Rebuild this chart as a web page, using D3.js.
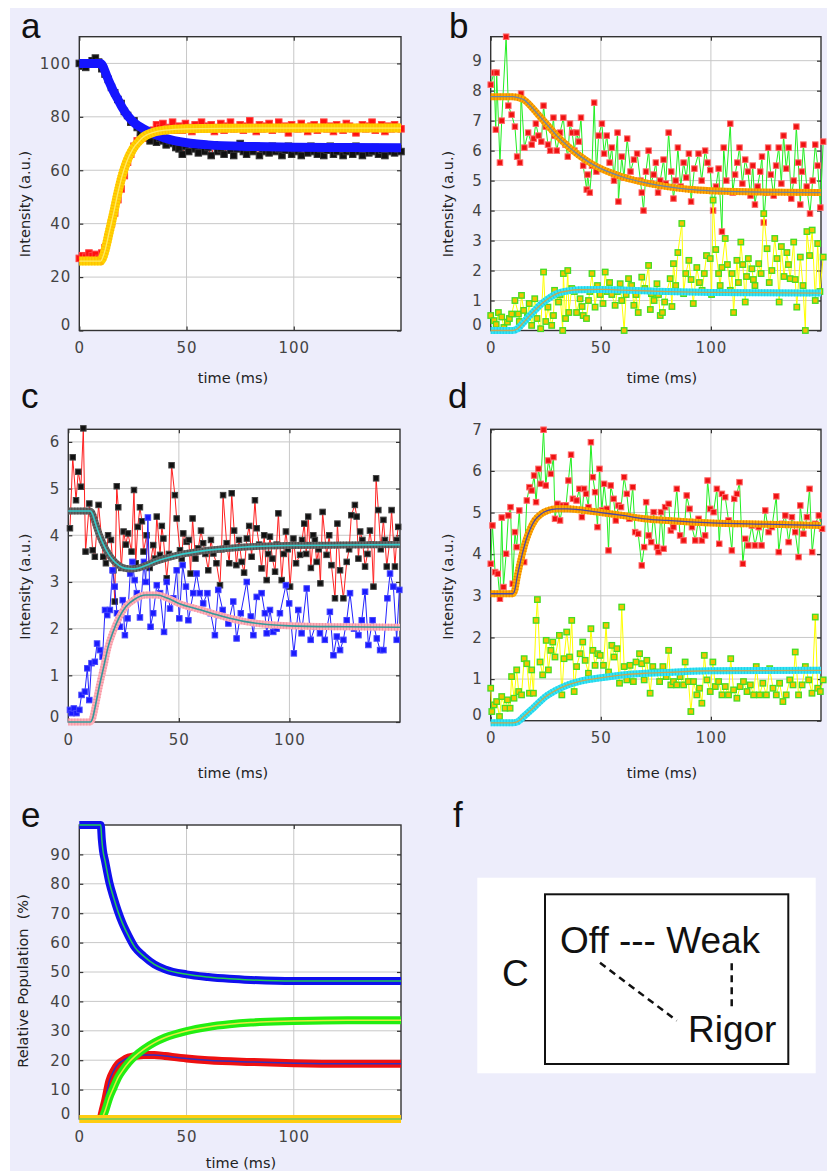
<!DOCTYPE html>
<html>
<head>
<meta charset="utf-8">
<script src="https://cdn.jsdelivr.net/npm/d3@7"></script>
<style>
  body { margin: 0; background: #fff; }
  svg { display: block; }
  .tick text { font-family: "DejaVu Sans", sans-serif; font-size: 15px; fill: #444; letter-spacing: 1px; }
  .axlabel { font-family: "DejaVu Sans", sans-serif; font-size: 14.5px; fill: #222; white-space: pre; }
  .plabel { font-family: "Liberation Sans", Arial, sans-serif; font-size: 35px; fill: #111; }
  .scheme { font-family: "Liberation Sans", Arial, sans-serif; font-size: 37px; fill: #111; white-space: pre; }
</style>
</head>
<body>
<div id="fig"></div>
<script>
// figure size
var W = 827, H = 1171;

// shared x axis
var xTicks = [0, 50, 100];
var aTime = d3.range(0, 150.1, 1.5);

// ---- panel a : data on a 1.5 ms grid ----
var aBlack = [100, 99, 98.5, 100, 101, 102, 100.5, 98, 96, 94, 91, 89, 86.5, 85, 82, 80.5, 78, 78.5, 76, 74,
  73, 72.5, 71, 73, 70.5, 72, 71, 69.5, 71, 70, 68.5,
  68, 66, 69, 67, 70, 68, 66.5, 69, 67, 68.5,
  65.5, 69.5, 67, 68, 66, 69, 67.5, 65.5, 68, 70,
  67, 66, 68.5, 67, 69, 65.5, 68, 67, 66.5, 69,
  67, 68, 65.5, 67.5, 69, 66, 68, 67, 65.5, 68.5,
  66.5, 69, 67, 66, 68, 65.5, 67.5, 69, 66, 67,
  68.5, 65.5, 67, 68, 66, 69, 67, 65.5, 68, 66.5,
  67, 68.5, 66, 67.5, 65.5, 68, 67, 66.5, 68, 67];
var aRed = [27, 28, 27.5, 29, 28, 28.5, 27, 29, 31, 35, 40, 44, 49, 53, 58, 63, 66, 69, 71, 72,
  73.5, 72, 74, 75, 77, 76, 77.5, 75.5, 76, 78, 75,
  76.5, 75, 77.5, 76, 74.5, 77, 76, 78, 75.5, 76.5,
  77, 74.5, 76, 77.5, 75, 76.5, 78, 75.5, 76, 77,
  75, 76.5, 78.5, 76, 74.5, 77, 75.5, 76.5, 77.5, 75,
  76, 78, 75.5, 76.5, 74, 77, 76, 75.5, 77.5, 76,
  74.5, 76.5, 77, 75, 76, 78, 75.5, 76.5, 74.5, 77,
  76, 75, 77.5, 76.5, 75.5, 74, 76, 77, 75.5, 76.5,
  78, 75, 76, 77, 74.5, 76.5, 75.5, 77, 76, 75.5];
var aBlueFitT = [0, 10, 11, 12, 14, 16, 18, 20, 23, 26, 30, 35, 40, 50, 60, 80, 100, 125, 150];
var aBlueFitV = [100, 100, 99, 97, 93, 89.5, 86.5, 83.5, 80, 77.5, 75.5, 73.5, 72, 70.3, 69.5, 68.9, 68.6, 68.5, 68.4];
var aYellowFitT = [0, 10, 11, 12, 14, 16, 18, 20, 22, 25, 28, 30, 35, 40, 50, 70, 100, 150];
var aYellowFitV = [26, 26, 27.5, 30, 37, 44, 51.5, 58, 63, 68, 71, 72.5, 74.3, 75, 75.5, 75.7, 75.8, 75.8];

// ---- panel b : [time, value] ----
var bRed = [[0,8.2],[1.5,8.6],[2.3,6.7],[2.7,8.6],[4.2,5.6],[5,7.0],[7,9.8],[8,7.5],[9.5,7.2],[11,6.8],[12,5.8],
  [13.3,5.6],[13.8,7.9],[15.3,6.1],[17,6.6],[18.6,6.2],[19.5,6.4],[20.5,6.9],[21.7,6.5],[23,6.3],[24,7.5],[25,6.8],
  [26,6.2],[27,6.0],[28.5,7.1],[29,6.5],[30,6.0],[31.5,6.6],[33,7.1],[34,6.2],[35,5.8],[36,6.9],[37,6.6],[38,6.0],
  [39,6.6],[40,6.3],[41,7.1],[42,5.5],[43.6,4.7],[44,5.2],[45,4.6],[46,5.5],[47,7.6],[48,5.3],[49,6.5],[50.5,6.9],
  [51.5,5.9],[52.7,6.5],[54,5.6],[55,6.1],[56,5.0],[57.6,6.6],[58,4.3],[59.5,5.8],[60.5,5.1],[62,6.4],[63.5,5.3],
  [65,5.7],[66.5,5.9],[68,5.0],[68.6,4.6],[69.4,4.0],[70.5,5.3],[71.7,6.0],[72.8,4.9],[74,5.2],[75,5.6],[76,4.6],
  [77,5.0],[78.5,5.7],[79.5,4.9],[80.8,6.6],[82,5.3],[83,4.4],[84,5.0],[85,6.1],[86.3,4.8],[87.6,5.6],[88.8,5.1],
  [90,5.9],[91,4.3],[92.5,5.4],[94.4,5.9],[95.8,5.0],[97.4,6.0],[98.5,5.6],[99.7,5.35],[101,4.0],[102.3,4.8],
  [103.5,5.4],[105,3.3],[105.8,6.1],[107,5.0],[108.8,6.9],[109.9,4.6],[111,5.2],[112,5.6],[113,6.1],[114.3,4.9],
  [115.6,5.7],[116.8,5.3],[118,4.5],[119,5.5],[120,4.2],[121.2,4.8],[122.4,5.3],[123.2,5.8],[124,3.6],[125,4.6],
  [126,6.1],[127.2,5.2],[128.5,4.5],[129.6,5.5],[130.8,6.1],[132,4.9],[133,6.5],[134.2,5.4],[135.3,6.1],[136.5,4.4],
  [137.6,5.0],[138.8,6.8],[139.7,5.6],[140.6,4.2],[141.3,5.3],[142,6.2],[143.5,4.8],[145,3.9],[146.2,5.0],
  [147.4,6.2],[148.5,5.5],[149.7,4.1],[151,6.3]];
var bYellow = [[0,0.5],[1.5,0.33],[2.5,0.2],[3.5,0.6],[5,0.45],[6,0.1],[7.6,0.28],[8.5,0.4],[9.5,0.55],[11,1.0],
  [12.6,0.55],[13,0.3],[14,1.17],[15,0.67],[16.7,0.45],[17.5,0.9],[18.6,0.17],[20,1.06],[21,0.4],[22.7,0.06],
  [24,1.95],[25,0.3],[26,0.78],[27.7,0.17],[28.5,0.5],[29,1.34],[30.8,0.95],[31.5,1.2],[32.7,0.0],[33,1.9],
  [34,0.4],[35,2.0],[35.5,0.6],[36.8,1.4],[38,1.3],[39,0.6],[40.6,1.06],[41.5,0.8],[42,0.5],[43.5,0.4],[44.4,1.0],
  [45,1.3],[46,1.9],[47.4,0.78],[48.5,1.5],[49.7,1.2],[51,0.9],[52,1.95],[53,1.3],[54,1.6],[55,1.2],[56.5,0.84],
  [57.5,1.3],[58.8,1.56],[59.5,1.0],[60.6,0.0],[61.5,1.2],[62.6,1.73],[64,1.5],[65,0.84],[66,1.2],[67,0.6],
  [68.6,1.78],[70,1.4],[71.7,2.17],[72.5,0.7],[73,1.23],[74.2,1.0],[75.5,1.56],[76.2,1.2],[77,0.5],[78,0.6],
  [79,0.95],[80,1.3],[81.5,1.73],[82.3,0.8],[83,2.23],[84,1.5],[85,2.6],[86.8,3.57],[87.6,1.23],[88.6,1.9],
  [90,2.34],[91,1.7],[92,0.9],[93.6,2.1],[94.8,1.6],[96,1.34],[97,1.9],[98,2.5],[99.7,2.4],[100.3,1.2],[101,4.35],
  [102.2,2.7],[103.5,1.9],[104.2,1.5],[105,2.1],[106.5,3.07],[107.5,2.2],[108.8,1.34],[109.6,1.9],[110.3,0.6],
  [111.8,2.34],[112.5,1.6],[113.6,2.95],[114.5,2.2],[115.6,0.95],[116.2,1.8],[117,2.4],[118.6,2.06],[119.3,1.7],
  [120,1.5],[121.7,2.23],[122.8,1.9],[124,3.9],[125.5,2.73],[126.5,1.6],[127.7,2.0],[129,3.07],[130,2.4],
  [131,0.95],[132,2.8],[133.2,1.8],[134.5,2.6],[135.2,2.2],[136,1.73],[137.6,2.95],[138.3,1.7],[139,0.78],
  [140.6,2.45],[141.8,1.5],[142.9,0.0],[143.6,3.3],[144.8,2.5],[146,3.35],[147.4,1.0],[148.5,2.9],[149.5,1.3],
  [151,2.45]];
var bRedFitT = [0, 10, 12, 15, 18, 21, 24, 27, 30, 35, 40, 45, 50, 55, 60, 70, 80, 90, 100, 120, 150];
var bRedFitV = [7.8, 7.8, 7.78, 7.7, 7.5, 7.25, 7.0, 6.75, 6.5, 6.15, 5.85, 5.6, 5.4, 5.25, 5.12, 4.93, 4.8, 4.71, 4.66, 4.62, 4.6];
var bCyanFitT = [0, 10, 12, 15, 18, 20, 22, 25, 28, 30, 35, 40, 50, 60, 80, 100, 150];
var bCyanFitV = [0, 0, 0.05, 0.28, 0.52, 0.67, 0.82, 1.0, 1.15, 1.23, 1.32, 1.36, 1.37, 1.35, 1.3, 1.27, 1.25];

// ---- panel c ----
var cBlack = [[0.75,4.15],[2,5.67],[3.5,4.75],[4.5,5.36],[5.7,5.04],[6.8,6.29],[7.8,3.65],[9.5,4.68],[11,3.68],
  [12,3.54],[13.7,4.65],[15.8,3.54],[17,3.4],[18,4.0],[19.3,3.9],[20.4,3.25],[21,2.58],[21.9,5.05],[22.6,4.6],
  [24,3.3],[25,4.08],[26,3.8],[27,4.04],[28.6,3.65],[29.7,4.97],[30.5,3.4],[31.4,4.18],[32.4,4.6],[33.3,4.3],
  [34,3.65],[35.4,4.0],[36.8,3.3],[38.4,3.79],[39.2,3.5],[40,4.4],[41.5,3.58],[42.3,4.2],[43,3.93],[44.5,3.08],
  [45.5,3.6],[46.7,5.5],[48.2,4.86],[49,4.36],[50.5,3.68],[51.3,3.5],[52,4.04],[53.5,3.86],[54.5,3.9],[55.3,3.18],
  [56.2,4.36],[57.5,3.5],[58.8,3.72],[60,4.1],[61,3.83],[62,3.6],[63.3,3.25],[64.5,3.9],[65.6,3.61],[67,3.4],
  [68.6,2.93],[69.3,3.7],[70,4.86],[71.6,3.83],[72.8,3.4],[73.9,4.9],[75,4.1],[76,3.36],[77.2,3.9],[78.4,3.43],
  [79.5,3.2],[80.7,3.93],[81.8,4.2],[82.9,3.54],[84.4,4.75],[85.2,4.15],[86.3,3.8],[87.4,3.29],[88.6,4.0],
  [89.7,3.04],[90.4,3.6],[91.2,3.97],[92.3,3.5],[93.5,3.22],[94.2,3.8],[95,4.47],[96.5,3.04],[97.4,3.6],[98.4,4.08],
  [99.3,3.7],[100.3,2.9],[101.8,3.93],[103,3.4],[104.8,3.58],[105.7,3.9],[106.7,4.25],[107.6,3.6],[108.5,4.4],
  [109.7,3.3],[110.8,4.0],[111.5,3.9],[112.3,3.43],[113.2,3.7],[114,2.97],[115,4.5],[116.8,3.58],[118,4.0],
  [119,3.36],[120.6,2.65],[121.7,4.25],[122.9,3.25],[124.4,2.65],[125.9,3.43],[127,3.7],[128,4.43],[129.6,4.65],
  [130.4,4.4],[131.2,3.5],[132,4.08],[133,3.9],[134.2,3.33],[135.3,3.6],[136.4,4.1],[137.2,3.8],[138,2.9],
  [139.2,5.22],[140.2,4.54],[141.3,3.7],[142.5,4.33],[143.2,3.9],[144,3.33],[145.2,3.8],[146.2,4.54],[147.7,3.33],
  [148.5,3.9],[149.2,4.18]];
var cBlue = [[0.75,0.26],[1.5,0.19],[2.5,0.29],[3.7,0.19],[5,0.26],[6,0.58],[7.5,0.65],[8.6,1.15],[9.5,0.47],
  [10.5,1.26],[12,1.29],[13,1.68],[14.3,1.54],[15.5,1.4],[16.6,2.4],[17.6,2.29],[18.8,2.4],[20,3.25],[21,2.9],
  [22,2.33],[23.4,2.04],[24.6,2.61],[25.6,1.86],[26.8,2.22],[28,3.18],[29,3.43],[30,3.04],[31,2.76],[32.4,2.24],
  [34.2,3.43],[35,3.0],[36,4.38],[37.2,2.04],[38.4,2.33],[40,2.93],[41.5,2.76],[43.3,1.93],[44.5,3.0],[46,2.43],
  [47.5,2.65],[49,3.25],[50.2,2.22],[51.7,3.36],[53.2,2.9],[54.3,2.18],[56.5,2.76],[58,3.18],[59.5,2.76],[61,2.54],
  [62.9,2.76],[64.4,2.33],[66.3,1.86],[67.8,2.83],[69.8,2.4],[72.4,2.11],[74.6,2.58],[76.1,1.79],[78,2.33],
  [80.7,3.0],[82.5,2.26],[83.7,1.86],[85.2,2.68],[87.4,2.76],[88.9,2.33],[89.7,1.9],[91.2,2.4],[92.7,1.93],
  [94.2,2.0],[95.7,2.33],[98.4,2.93],[99.9,2.54],[102,1.47],[104,2.4],[105.5,1.9],[107.8,2.86],[109.6,1.76],
  [111.6,2.04],[113.8,1.9],[116,1.76],[118.3,2.36],[119.9,1.43],[121.4,1.83],[122.9,1.54],[124.4,1.76],
  [125.9,2.18],[127.4,2.76],[129.2,2.0],[131.2,1.86],[132.7,2.18],[134.2,2.79],[135.7,1.65],[137.6,2.18],
  [139.5,1.79],[141,1.54],[142.5,1.54],[144.3,2.65],[145.5,3.18],[147,2.9],[148.5,1.76],[149.7,2.83]];
var cFitTopT = [0, 10, 11, 12, 13, 15, 17, 20, 23, 26, 29, 32, 36, 40, 45, 50, 60, 70, 80, 100, 125, 150];
var cFitTopV = [4.52, 4.52, 4.45, 4.3, 4.15, 3.9, 3.7, 3.48, 3.35, 3.29, 3.28, 3.3, 3.37, 3.45, 3.52, 3.58, 3.66, 3.71, 3.75, 3.78, 3.79, 3.8];
var cFitBotT = [0, 10, 11, 12, 14, 16, 18, 20, 23, 26, 30, 35, 40, 45, 50, 60, 70, 80, 90, 100, 125, 150];
var cFitBotV = [0, 0, 0.08, 0.29, 0.76, 1.18, 1.61, 1.9, 2.24, 2.47, 2.63, 2.72, 2.72, 2.65, 2.54, 2.4, 2.26, 2.15, 2.09, 2.06, 2.04, 2.03];

// ---- panel d ----
var dRed = [[0,3.77],[0.8,4.69],[2,3.57],[3.2,3.53],[4.2,2.93],[5,4.88],[5.8,3.21],[7,4.01],[8,4.93],[9,5.13],
  [10,3.29],[11,4.53],[11.8,4.17],[13,5.05],[14,3.85],[15.2,3.81],[16.4,5.29],[17.6,5.61],[18.6,5.53],[19.7,5.89],
  [20.6,5.25],[21.7,6.05],[22.7,5.69],[24,6.99],[25,5.65],[26.2,6.25],[27.3,5.93],[28.5,6.33],[29.2,4.85],
  [30.3,5.21],[31.5,4.81],[32.7,5.17],[34.2,5.17],[35.3,5.77],[36.5,6.39],[37.3,5.33],[39,5.29],[40.3,5.57],
  [41.4,4.89],[42.4,5.57],[43.3,5.45],[44.4,5.13],[45.5,6.69],[46.4,5.85],[47.4,5.49],[48.5,4.65],[49.4,6.05],
  [50.5,5.05],[51.5,5.69],[52.7,5.09],[53.5,4.09],[54.5,5.65],[55.8,5.33],[56.8,4.81],[58,5.17],[59.2,5.13],
  [60.6,5.85],[61.8,5.45],[63,4.85],[64.5,5.61],[65.6,4.53],[67,4.49],[68.6,3.73],[69.7,4.17],[70.6,5.25],
  [71.7,4.45],[72.9,4.29],[74,5.01],[75.5,4.17],[76.2,4.05],[77.3,5.01],[78.5,4.13],[79.2,5.13],[80.8,5.21],
  [81.8,4.57],[83,4.65],[84.5,5.57],[86,4.45],[87.6,4.33],[89,5.41],[90.3,5.09],[91.4,4.65],[92.9,4.33],
  [94.4,4.85],[95.9,4.33],[97.4,4.45],[98.5,5.77],[99.7,5.09],[101.2,5.01],[102.7,5.57],[103.8,4.25],[105,5.45],
  [106.5,5.37],[108,4.81],[109.5,4.09],[110.6,5.33],[111.8,5.45],[113,5.73],[114.5,3.77],[115.6,4.37],[117,4.21],
  [118.6,4.69],[120,4.21],[121.7,4.65],[123,4.21],[124.7,5.05],[126.2,4.53],[127.7,4.65],[129.7,5.39],[130.8,4.05],
  [132.3,4.73],[133.8,4.93],[135.3,4.29],[136.8,4.89],[138.3,4.53],[139.8,3.93],[140.6,5.17],[142,4.49],
  [143.6,4.89],[144.8,5.57],[146,4.05],[147.4,4.73],[149,4.93],[150.5,4.61]];
var dYellow = [[0,0.78],[0.5,0.22],[1.5,0.38],[2.7,0.46],[4,0.1],[5,0.58],[6.5,0.3],[7.6,0.5],[8.8,0.3],[9.5,1.06],
  [10.6,0.54],[11.8,1.22],[12.7,0.7],[14,0.62],[15.2,1.49],[16.4,1.37],[17.6,0.66],[18.6,1.22],[19.4,0.66],
  [20.6,2.41],[21.2,2.91],[22.4,1.41],[23.6,1.1],[25.2,1.93],[26.2,1.22],[27.3,1.69],[28.2,1.89],[29.2,1.53],
  [31.2,2.05],[32.3,0.62],[33.3,1.49],[34.5,2.13],[35.8,1.53],[36.8,2.41],[37.9,0.7],[39,1.3],[40.6,1.61],
  [41.8,1.89],[42.9,1.45],[44.4,1.14],[45.5,2.21],[46.4,1.69],[47.4,1.33],[48.6,1.61],[49.7,1.57],[51.2,1.33],
  [52.4,2.29],[53.5,1.17],[55,1.81],[56,1.53],[57.3,1.73],[58.5,0.9],[59.5,2.73],[60.6,1.3],[61.8,0.98],
  [63.3,1.33],[64.8,0.94],[66,1.41],[67.6,1.61],[68.6,1.37],[69.7,0.98],[70.9,1.45],[72.4,0.66],[73.6,1.3],
  [75.2,1.17],[76.7,0.94],[78.2,1.3],[79.7,1.06],[80.8,1.69],[81.8,0.86],[83,0.94],[84.5,0.86],[86,1.06],
  [87.6,0.86],[88.3,1.41],[89.8,0.94],[90.9,0.22],[92.1,0.94],[93.6,0.62],[94.8,0.78],[95.9,0.42],[97,1.57],
  [98.2,0.98],[99.7,0.7],[100.9,1.41],[102,0.82],[103.5,0.94],[105,0.62],[106.5,0.82],[108,0.62],[109,1.49],
  [110.3,0.74],[111.8,0.54],[113.3,0.82],[114.8,0.94],[116.4,0.7],[117.9,0.86],[119.4,0.62],[120.6,1.3],
  [122.1,0.62],[123.6,0.9],[125.2,0.62],[126.7,1.25],[128.2,0.78],[129.7,0.62],[131.2,0.9],[132.7,0.46],
  [134.2,0.62],[135.8,0.98],[137.3,0.86],[138.3,1.65],[139.8,0.62],[141.4,0.86],[142.9,1.3],[144.4,0.98],
  [145.9,0.66],[147.4,2.49],[148.5,0.78],[149.7,0.7],[151,0.98]];
var dRedFitT = [0, 10, 11, 12, 14, 16, 18, 20, 23, 26, 30, 35, 40, 50, 60, 70, 80, 100, 125, 150];
var dRedFitV = [3.05, 3.05, 3.15, 3.45, 3.93, 4.33, 4.61, 4.81, 4.97, 5.05, 5.09, 5.09, 5.07, 5.0, 4.93, 4.85, 4.81, 4.75, 4.72, 4.69];
var dCyanFitT = [0, 10, 12, 15, 20, 25, 30, 35, 40, 50, 60, 70, 80, 100, 150];
var dCyanFitV = [-0.05, -0.05, -0.03, 0.1, 0.34, 0.58, 0.74, 0.86, 0.94, 1.03, 1.1, 1.14, 1.16, 1.2, 1.21];

// ---- panel e : populations (%) ----
var eBlueT = [0, 10, 10.5, 11, 12, 14, 16, 18, 20, 23, 26, 30, 35, 40, 50, 60, 70, 80, 100, 125, 150];
var eBlueV = [100, 100, 95, 91.5, 87.8, 80.5, 75.3, 70.7, 66.8, 62.2, 58.3, 55.4, 52.6, 50.9, 49.2, 48.3, 47.7, 47.3, 46.9, 46.9, 46.9];
var eRedT = [10, 11, 12, 14, 16, 18, 20, 23, 26, 30, 35, 40, 50, 60, 80, 100, 125, 150];
var eRedV = [0, 3.2, 6.1, 12.9, 16.3, 18.6, 19.7, 20.9, 21.4, 21.8, 21.8, 21.4, 20.6, 20, 19.4, 19, 18.8, 18.8];
var eGreenT = [10.5, 12, 14, 16, 18, 20, 23, 26, 30, 35, 40, 50, 60, 70, 80, 100, 125, 150];
var eGreenV = [0, 2.7, 7.3, 10.7, 14, 16.3, 19.2, 21.4, 23.7, 26, 27.7, 29.9, 31.3, 32.2, 32.8, 33.3, 33.6, 33.6];
var eYellowT = [0, 150];
var eYellowV = [0, 0];

var svg = d3.select('#fig').append('svg')
  .attr('width', W)
  .attr('height', H);

svg.append('rect').attr('x', 0).attr('y', 0).attr('width', W).attr('height', H).attr('fill', '#fff');
svg.append('rect').attr('x', 10).attr('y', 8).attr('width', W - 10).attr('height', H - 8).attr('fill', '#ededfb');

// panel frames (pixel boxes of each plot)
var frames = {
  a: { left: 79.3, right: 401, top: 36.7, bottom: 330.5, yDomain: [0, 110], yTicks: [0, 20, 40, 60, 80, 100],
       ylab: 'Intensity (a.u.)', ylabX: 25, ylabY: 204, xlabX: 233, xlabY: 377.7, letter: 'a', lx: 21, ly: 38 },
  b: { left: 490.7, right: 821, top: 36.7, bottom: 330.5, yDomain: [0, 9.8], yTicks: d3.range(0, 10),
       ylab: 'Intensity (a.u.)', ylabX: 448.3, ylabY: 204, xlabX: 662, xlabY: 377.7, letter: 'b', lx: 449, ly: 38 },
  c: { left: 68.3, right: 400, top: 429.3, bottom: 722, yDomain: [0, 6.27], yTicks: d3.range(0, 7),
       ylab: 'Intensity (a.u.)', ylabX: 25, ylabY: 586.7, xlabX: 233, xlabY: 773, letter: 'c', lx: 21, ly: 408 },
  d: { left: 490.7, right: 821, top: 429.3, bottom: 720.7, yDomain: [0, 7], yTicks: d3.range(0, 8),
       ylab: 'Intensity (a.u.)', ylabX: 448.3, ylabY: 586.7, xlabX: 662, xlabY: 773, letter: 'd', lx: 448, ly: 408 },
  e: { left: 79.3, right: 401, top: 825, bottom: 1119, yDomain: [0, 100], yTicks: d3.range(0, 100, 10),
       ylab: 'Relative Population  (%)', ylabX: 22.7, ylabY: 981, xlabX: 241, xlabY: 1163, letter: 'e', lx: 21, ly: 827 }
};

function makePanel(p) {
  var g = svg.append('g');
  var x = d3.scaleLinear().domain([0, 150]).range([p.left, p.right]);
  var y = d3.scaleLinear().domain(p.yDomain).range([p.bottom, p.top]);

  g.append('rect')
    .attr('x', p.left).attr('y', p.top)
    .attr('width', p.right - p.left).attr('height', p.bottom - p.top)
    .attr('fill', '#fff');

  // grid
  g.selectAll('.gx').data(xTicks.filter(d => d > 0)).enter().append('line')
    .attr('x1', d => x(d)).attr('x2', d => x(d))
    .attr('y1', p.top).attr('y2', p.bottom)
    .attr('stroke', '#c8c8c8').attr('stroke-width', 1);
  g.selectAll('.gy').data(p.yTicks.filter(d => y(d) < p.bottom - 2 && y(d) > p.top + 2)).enter().append('line')
    .attr('x1', p.left).attr('x2', p.right)
    .attr('y1', d => y(d)).attr('y2', d => y(d))
    .attr('stroke', '#c8c8c8').attr('stroke-width', 1);

  // axes, ticks pointing inwards and mirrored
  var fmt = d3.format('d');
  var left = g.append('g').attr('transform', `translate(${p.left},0)`)
    .call(d3.axisLeft(y).tickValues(p.yTicks).tickFormat(fmt).tickSizeInner(-4).tickSizeOuter(0).tickPadding(8));
  left.selectAll('.tick text').filter(d => d === 0).attr('dy', '-0.05em');
  g.append('g').attr('transform', `translate(0,${p.bottom})`)
    .call(d3.axisBottom(x).tickValues(xTicks).tickFormat(fmt).tickSizeInner(-4).tickSizeOuter(0).tickPadding(12));
  g.append('g').attr('transform', `translate(${p.right},0)`)
    .call(d3.axisRight(y).tickValues(p.yTicks).tickSizeInner(-4).tickSizeOuter(0).tickFormat(''));
  g.append('g').attr('transform', `translate(0,${p.top})`)
    .call(d3.axisTop(x).tickValues(xTicks).tickSizeInner(-4).tickSizeOuter(0).tickFormat(''));
  g.selectAll('.domain').remove();
  g.selectAll('.tick line').attr('stroke', '#333').attr('stroke-width', 1.2);

  g.append('rect')
    .attr('x', p.left).attr('y', p.top)
    .attr('width', p.right - p.left).attr('height', p.bottom - p.top)
    .attr('fill', 'none').attr('stroke', '#333').attr('stroke-width', 1.4);

  g.append('text').attr('class', 'axlabel')
    .attr('x', p.xlabX).attr('y', p.xlabY).attr('dy', '0.35em')
    .attr('text-anchor', 'middle').text('time (ms)');
  g.append('text').attr('class', 'axlabel')
    .attr('transform', `translate(${p.ylabX},${p.ylabY}) rotate(-90)`)
    .attr('dy', '0.35em').attr('text-anchor', 'middle').text(p.ylab);

  svg.append('text').attr('class', 'plabel')
    .attr('x', p.lx).attr('y', p.ly).text(p.letter);

  var layer = svg.append('g');
  return { g: layer, x: x, y: y };
}

// noisy measured trace: thin connecting line + square markers
function drawData(P, pts, st) {
  var line = d3.line().x(d => P.x(d[0])).y(d => P.y(d[1]));
  P.g.append('path').attr('d', line(pts))
    .attr('fill', 'none').attr('stroke', st.line).attr('stroke-width', st.lw || 1);
  var s = st.size || 5;
  P.g.selectAll(null).data(pts).enter().append('rect')
    .attr('x', d => P.x(d[0]) - s / 2).attr('y', d => P.y(d[1]) - s / 2)
    .attr('width', s).attr('height', s)
    .attr('fill', st.fill).attr('stroke', st.stroke).attr('stroke-width', st.sw || 1);
}

// fitted curve: thick marker band with a thin centre line
function drawFit(P, T, V, st) {
  var line = d3.line().x((d, i) => P.x(T[i])).y(d => P.y(d)).curve(d3.curveMonotoneX);
  var d = line(V);
  P.g.append('path').attr('d', d).attr('fill', 'none')
    .attr('stroke', st.band).attr('stroke-width', st.w || 7);
  if (st.edge) {
    P.g.append('path').attr('d', d).attr('fill', 'none')
      .attr('stroke', st.edge).attr('stroke-width', st.w || 7)
      .attr('stroke-dasharray', '1,2').attr('opacity', 0.7);
  }
  if (st.core) {
    P.g.append('path').attr('d', d).attr('fill', 'none')
      .attr('stroke', st.core).attr('stroke-width', st.cw || 1.3);
  }
}

function pairs(T, V) { return T.map((t, i) => [t, V[i]]); }

// panel a
var A = makePanel(frames.a);
drawData(A, pairs(aTime, aRed), { line: '#22dd22', fill: '#ff1010', stroke: '#ff4040', size: 6.5 });
drawData(A, pairs(aTime, aBlack), { line: '#ee1111', fill: '#111', stroke: '#333', size: 6.5 });
drawFit(A, aBlueFitT, aBlueFitV, { band: '#1515ff', w: 9 });
drawFit(A, aYellowFitT, aYellowFitV, { band: '#ffd400', edge: '#ffb000', w: 9, core: '#ffe866' });

// panel b
var B = makePanel(frames.b);
drawData(B, bRed, { line: '#22ee22', fill: '#ee1111', stroke: '#ff6a6a', size: 5.5 });
drawData(B, bYellow, { line: '#ffff00', fill: '#f2c400', stroke: '#44dd22', sw: 1.3, size: 5.5 });
drawFit(B, bRedFitT, bRedFitV, { band: '#ffaa00', edge: '#e07000', core: '#6a86a8' });
drawFit(B, bCyanFitT, bCyanFitV, { band: '#33e6f6', edge: '#18c0e0', core: '#c8a850' });

// panel c
var Cp = makePanel(frames.c);
drawData(Cp, cBlack, { line: '#ff2020', fill: '#111', stroke: '#444', size: 5.5 });
drawData(Cp, cBlue, { line: '#2222ff', fill: '#1a1aff', stroke: '#4646ff', size: 5.5 });
drawFit(Cp, cFitTopT, cFitTopV, { band: '#666', edge: '#444', core: '#33cccc', cw: 1.6 });
drawFit(Cp, cFitBotT, cFitBotV, { band: '#ffb0b8', edge: '#ee8898', core: '#339999', cw: 1.6 });

// panel d
var D = makePanel(frames.d);
drawData(D, dRed, { line: '#22ee22', fill: '#ee1111', stroke: '#ff6a6a', size: 5.5 });
drawData(D, dYellow, { line: '#ffff00', fill: '#f2c400', stroke: '#44dd22', sw: 1.3, size: 5.5 });
drawFit(D, dRedFitT, dRedFitV, { band: '#ffaa00', edge: '#e07000', core: '#4848a8' });
drawFit(D, dCyanFitT, dCyanFitV, { band: '#33e6f6', edge: '#18c0e0', core: '#c8a850' });

// panel e
var E = makePanel(frames.e);
drawFit(E, eBlueT, eBlueV, { band: '#1010ee', w: 8, core: '#22cc55', cw: 1.5 });
drawFit(E, eRedT, eRedV, { band: '#ee1010', w: 8, core: '#3030c0', cw: 1.5 });
drawFit(E, eGreenT, eGreenV, { band: '#22ee11', w: 8, core: '#e8e840', cw: 1.5 });
drawFit(E, eYellowT, eYellowV, { band: '#ffcc10', w: 8, core: '#66cc66', cw: 1.5 });

// panel f : reaction scheme
svg.append('text').attr('class', 'plabel').attr('x', 453).attr('y', 827).text('f');
var f = svg.append('g');
f.append('rect').attr('x', 477.3).attr('y', 877.7).attr('width', 338.4).attr('height', 195.6).attr('fill', '#fff');
f.append('rect').attr('x', 545).attr('y', 894.3).attr('width', 243.3).attr('height', 169.7)
  .attr('fill', 'none').attr('stroke', '#111').attr('stroke-width', 2);
f.append('text').attr('class', 'scheme').attr('x', 502).attr('y', 986).text('C');
f.append('text').attr('class', 'scheme').attr('x', 560).attr('y', 953).text('Off --- Weak');
f.append('text').attr('class', 'scheme').attr('x', 688).attr('y', 1042).text('Rigor');
f.append('line').attr('x1', 600).attr('y1', 962.7).attr('x2', 676.7).attr('y2', 1020.7)
  .attr('stroke', '#111').attr('stroke-width', 2.5).attr('stroke-dasharray', '7,5');
f.append('line').attr('x1', 731.7).attr('y1', 963.3).attr('x2', 731.7).attr('y2', 1009.3)
  .attr('stroke', '#111').attr('stroke-width', 2.5).attr('stroke-dasharray', '7,5');
</script>
</body>
</html>
